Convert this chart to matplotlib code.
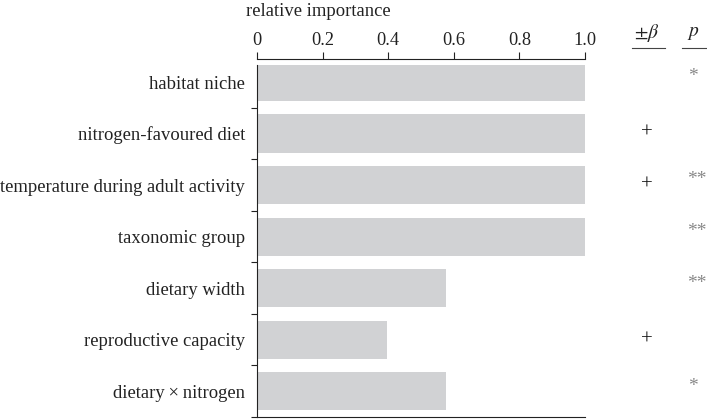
import matplotlib
matplotlib.use("Agg")
import matplotlib.pyplot as plt
from matplotlib.transforms import blended_transform_factory

categories = ["habitat niche", "nitrogen-favoured diet", "temperature during adult activity",
              "taxonomic group", "dietary width", "reproductive capacity", "dietary\u2009\u00d7\u2009nitrogen"]
importance = [1.0, 1.0, 1.0, 1.0, 0.575, 0.395, 0.575]
beta_signs = ["", "+", "+", "", "", "+", ""]
p_marks = ["*", "", "**", "**", "**", "", "*"]
xticks = [0, 0.2, 0.4, 0.6, 0.8, 1.0]
xticklabels = ["0", "0.2", "0.4", "0.6", "0.8", "1.0"]

plt.rcParams['font.family'] = ['Liberation Serif', 'DejaVu Serif']
plt.rcParams['mathtext.fontset'] = 'stix'

W, H = 707, 419
FS = 13.4
fig = plt.figure(figsize=(W/100, H/100), dpi=100)
ax = fig.add_axes([257/W, 1-417/H, (585-257)/W, (417-65)/H])

ypos = list(range(len(categories)))
ax.barh(ypos, importance, height=0.74, color='#d1d2d4', edgecolor='none')
ax.set_ylim(6.5, -0.33)
ax.set_xlim(0, 1.0)

ax.xaxis.tick_top()
ax.set_xticks(xticks)
ax.set_xticklabels(xticklabels)
ax.tick_params(axis='x', direction='out', length=4.8, width=0.8, pad=2.5,
               colors='#222222', labelsize=13.2)
ax.spines['top'].set_position(('outward', 4.3))
ax.spines['right'].set_visible(False)
for s in ['top', 'left', 'bottom']:
    ax.spines[s].set_linewidth(0.8)
    ax.spines[s].set_color('#222222')

ax.set_yticks([i + 0.5 for i in range(len(categories))])
ax.set_yticklabels([])
ax.set_yticks(ypos, minor=True)
ax.set_yticklabels(categories, minor=True)
ax.tick_params(axis='y', which='major', direction='out', length=4.5, width=0.8, colors='#222222')
ax.tick_params(axis='y', which='minor', length=0, pad=8.5, labelsize=FS, colors='#222222')

fig.text(246/W, 1-11/H, "relative importance", fontsize=FS, ha='left', va='center', color='#222222')

# side columns
bx, px = 647/W, 693/W
fig.text(bx, 1-33/H, r"$\pm\beta$", fontsize=14, ha='center', va='center', color='#222222')
fig.text(px, 1-33/H, r"$p$", fontsize=14, ha='center', va='center', color='#222222')
fig.add_artist(plt.Line2D([632/W, 665/W], [1-48/H, 1-48/H], color='#444444', lw=0.8))
fig.add_artist(plt.Line2D([682/W, 706/W], [1-48/H, 1-48/H], color='#444444', lw=0.8))

tr = blended_transform_factory(fig.transFigure, ax.transData)
for i, (b, p) in enumerate(zip(beta_signs, p_marks)):
    if b:
        ax.text(bx, i, b, transform=tr, fontsize=15, ha='center', va='center', color='#111111')
    if p:
        ax.text(px + (0.005 if len(p) == 2 else 0), i - 0.1, p, transform=tr,
                fontsize=14, ha='center', va='center', color='#888888')

fig.savefig("out.png", dpi=100)
